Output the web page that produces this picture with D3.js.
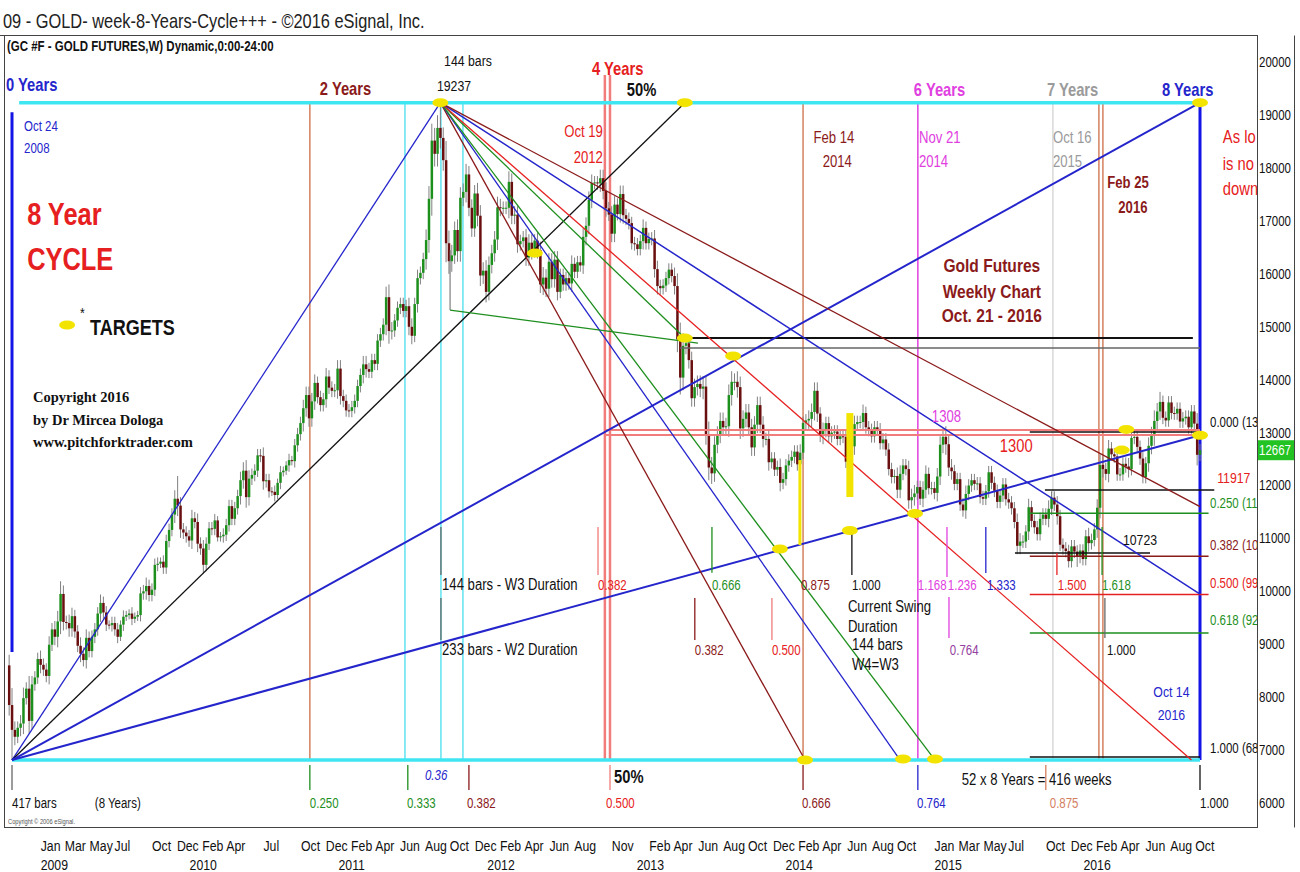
<!DOCTYPE html>
<html><head><meta charset="utf-8">
<script src="https://cdn.jsdelivr.net/npm/d3@7"></script>
<style>
body{margin:0;background:#fff}
svg text{font-family:'Liberation Sans',Arial,sans-serif}
</style></head><body>
<svg id="chart" width="1300" height="872"></svg>
<script>
// ---------------- DATA ----------------
// weekly closes (price x10), first entry = week -1 (Oct 17 2008), week 0 = Oct 24 2008 ... week 416 = Oct 14 2016
const firstWeek = -1;
const firstOpen = 8600;
const weeklyClose = [7850,
7380,7250,7420,7500,7980,8160,7550,8240,8370,8720,
8610,8520,8400,8990,9280,9140,9430,9950,9420,9400,
9300,9530,9240,8970,8820,8700,9120,8870,9140,9280,
9580,9780,9600,9370,9360,9400,9280,9140,9370,9520,
9550,9580,9480,9520,9550,9960,10000,10100,9930,10030,
10500,10520,10560,10450,10950,11160,11450,11750,11620,11170,
11110,11040,10960,11380,11310,10900,10810,10500,10900,11190,
11180,11340,11020,11040,11070,11250,11610,11370,11570,11800,
12100,12280,11780,12130,12200,12280,12570,12560,12080,12100,
11890,11880,11820,12050,12250,12280,12380,12480,12460,12760,
12970,13180,13460,13710,13270,13590,13940,13670,13520,13630,
14060,13850,13790,13800,14210,13690,13600,13420,13410,13480,
13600,13880,14090,14290,14200,14150,14370,14300,14740,14860,
15040,15560,14920,14930,15120,15360,15430,15300,15390,15000,
14830,15430,15920,16020,16280,16640,17420,18520,18270,18760,
18570,18150,16580,16240,16350,16830,16430,17440,17550,17880,
17250,16860,17520,17100,15970,16060,15660,16170,16390,16650,
17260,17250,17250,17250,17740,17100,17120,16560,16620,16690,
16310,16590,16430,16630,16450,15800,15930,15720,16230,15900,
16270,15660,15980,15800,15920,15820,16190,16040,16220,16160,
16700,16910,17400,17720,17730,17710,17810,17570,17240,17120,
16760,17310,17130,17510,17110,17040,16960,16580,16560,16470,
16620,16870,16580,16660,16670,16090,15770,15730,15780,15920,
16080,15960,15770,14760,14040,14640,14690,14370,13650,13860,
13920,13830,13870,12970,12340,12230,12770,12960,13220,13100,
13120,13710,13960,13960,13860,13080,13260,13380,13100,12720,
13150,13520,13150,12880,12880,12440,12510,12300,12350,12050,
12120,12380,12470,12540,12640,12400,12620,13180,13230,13260,
13390,13790,13360,12940,13030,13180,12930,13000,13020,12880,
12930,12920,12450,12520,12740,13160,13200,13200,13370,13100,
13050,12930,13100,13060,12800,12870,12680,12310,12160,12180,
11920,12220,12380,12310,11720,11780,11850,11970,11750,11920,
12220,11950,11950,11860,12170,12770,12920,12780,12340,12270,
12030,12120,11640,11530,11840,12000,12100,12030,12040,11780,
11750,11890,12250,12050,11900,11690,11810,12020,11740,11680,
11570,11310,10860,10940,10940,11130,11590,11330,11210,11080,
11370,11450,11370,11560,11770,11640,11420,10880,10810,10760,
10570,10850,10750,10650,10770,10610,11040,10910,10970,11170,
11580,12390,12310,12220,12700,12590,12550,12210,12210,12410,
12360,12310,12900,12920,12730,12510,12160,12420,12750,12950,
13220,13400,13580,13280,13230,13570,13370,13360,13450,13210,
13270,13300,13100,13400,13170,12580,12667];
// wick extension beyond body, in steps of 40 (price x10)
const wickSize = [5,8,4,3,4,5,3,6,4,3,
3,4,3,3,4,3,4,5,6,4, 3,4,4,3,3,4,3,4,3,3, 3,3,4,3,3,2,3,3,3,2, 3,2,2,3,2,2,3,3,4,3,
3,3,3,2,3,3,3,3,4,5, 4,3,3,3,4,3,4,3,4,3, 3,3,3,2,2,3,3,3,3,3, 3,4,4,5,4,3,3,3,3,4,
3,3,2,3,2,3,2,2,3,2, 3,3,3,4,4,4,4,4,3,3, 3,4,3,3,3,4,4,3,3,3, 3,3,3,3,4,4,3,3,3,3,
3,3,5,6,4,3,3,3,3,3, 4,4,3,4,3,3,5,6,8,6, 6,5,5,9,6,5,4,5,5,4, 5,4,4,4,5,5,4,5,4,4,
4,5,4,3,3,5,4,4,4,3, 3,4,4,4,3,4,4,5,4,4, 4,4,4,3,3,3,3,4,3,3, 3,4,4,4,4,3,3,4,4,4,
3,4,4,3,4,4,3,3,3,3, 3,3,4,3,3,3,4,4,3,3, 3,3,3,4,6,8,6,4,4,4, 4,4,4,5,5,6,5,4,4,4,
4,4,5,5,4,5,5,4,4,4, 4,4,4,4,4,3,4,3,3,3, 4,3,3,3,3,3,3,4,3,3, 4,4,4,4,3,4,3,3,3,3,
3,3,3,3,3,3,4,3,3,4, 3,3,3,3,3,3,3,3,3,3, 3,4,4,3,3,4,4,4,3,3, 4,4,3,3,3,4,4,4,5,4,
4,3,3,3,3,4,3,3,3,3, 3,3,3,3,3,3,3,3,3,3, 3,3,3,4,4,3,3,4,3,3, 3,3,3,3,4,3,3,4,3,3,
3,3,3,3,3,3,3,3,4,3, 3,4,5,4,3,4,3,3,3,3, 3,3,4,3,3,3,3,3,3,4, 4,5,4,4,3,3,3,3,3,3,
3,3,3,3,3,3,5,3];
const extremes = [{week:0,low:6810},{week:150,high:19237},{week:58,high:12180},{week:326,high:13080},{week:373,low:10460},{week:402,high:13770}];

const priceTicks = [6000,7000,8000,9000,10000,11000,12000,13000,14000,15000,16000,17000,18000,19000,20000];
const lastPrice = 12667;
const monthTicks = ["2009-01","2009-03","2009-05","2009-07","2009-10","2009-12","2010-02","2010-04","2010-07","2010-10","2010-12",
"2011-02","2011-04","2011-06","2011-08","2011-10","2011-12","2012-02","2012-04","2012-06","2012-08","2012-11",
"2013-02","2013-04","2013-06","2013-08","2013-10","2013-12","2014-02","2014-04","2014-06","2014-08","2014-10",
"2015-01","2015-03","2015-05","2015-07","2015-10","2015-12","2016-02","2016-04","2016-06","2016-08","2016-10"];
const yearTicks = ["2009","2010","2011","2012","2013","2014","2015","2016"];

// annotation geometry in (week, price)
const vLines = [[0,19058,8852,"bb",3],[104.3,19237,6810,"si",1.5],[137.6,19237,6810,"cyt",1.5],[150.2,19237,6810,"cyt",1.5],
[157.9,19237,6810,"cyt",1.5],[207.6,19758,6810,"lr",2.5],[209.4,19758,6810,"lr",2.5],[277,19237,6810,"si",1.5],
[317.2,19237,6810,"mg",1.5],[364.5,19237,6810,"lg",1.2],[380.6,19237,6810,"si",1.5],[382,19237,6810,"si",1.5],[416,19237,6810,"bb",3]];
const hLines = [[2.5,416,19237,"cy",3.5],[0,416,6810,"cy",3.5],[232.8,413.5,14787,"k",2],[233.9,416,14598,"dg",1.5],
[207.6,416,13048,"lr",2],[207.6,416,12954,"lr",2],[356.4,416,13010,"k",1.5],[361.7,421,11914,"k",1.5],
[356.4,419,11474,"g",1.5],[356.4,419,10664,"m",1.5],[356.4,419,9939,"r",1.5],[356.4,419,9214,"g",1.5],
[356.4,416,6868,"k",1.5],[351.2,398.5,10723,"k",1.5]];
const fanLines = [[0,6810,150,19237,"b",1.3],[0,6810,235.6,19237,"k",1.3],[0,6810,416,19237,"b",2],[0,6810,416,12950,"b",2],
[150,19237,277.7,6810,"m",1.3],[150,19237,311,6810,"b",1.3],[150,19237,323.2,6810,"g",1.3],[150,19237,235.6,14787,"g",1.3],
[150,19237,413,6810,"r",1.3],[150,19237,416,9948,"b",1.5],[150,19237,416,11600,"m",1.3],
[153.4,15316,240.2,14692,"g",1.3],[153.4,16450,153.4,15316,"dg",1]];
const targets = [[150,19237],[235.6,19237],[416,19237],[183.1,16393],[235.6,14787],[252.5,14447],[268.9,10800],[293.4,11150],
[316.2,11470],[277.7,6810],[312,6830],[323.2,6830],[390.2,13060],[388.6,12670],[416,12950],[19.3,15033]];
const targetBars = [[275.9,12481,10875,3],[293.4,13369,11782,7]];
const ticks = [[150.2,11215,10308,"dg"],[150.2,9873,9079,"dg"],[205.2,11215,10308,"lr"],[245.1,11215,10350,"g"],
[239.1,9873,9079,"m"],[266.1,9873,9079,"lr"],[294.1,11215,10308,"k"],[327.4,11215,10270,"mg"],[341,11215,10346,"b"],
[365.9,10723,10308,"r"],[381.7,11215,10308,"g"],[382.7,9873,9117,"dg"],[328.1,9892,9117,"mg"],
[0,6716,6244,"dg"],[104.3,6716,6244,"g"],[138.6,6716,6244,"g"],[160,6716,6244,"m"],[209.4,6716,6244,"lr"],
[277,6716,6244,"m"],[317.2,6716,6244,"b"],[362,6716,6244,"si"],[416,6716,6244,"k"]];
const labels = [
["0 Years",-2.1,19455,"b","yr"],["2 Years",107.8,19380,"m","yr"],["144 bars",151.3,19928,"k","md"],["19237",148.8,19455,"k","md"],
["4 Years",203.1,19758,"r","yr"],["50%",215.3,19361,"k","yr"],["6 Years",315.8,19361,"mg","yr"],["7 Years",362.4,19361,"gy","yr"],
["8 Years",402.7,19361,"b","yr"],["Oct 24",4.2,18699,"b","sm"],["2008",4.2,18283,"b","sm"],
["Oct 19",206.9,18586,"r","dt","end"],["2012",206.9,18094,"r","dt","end"],
["Feb 14",287.8,18472,"m","dt","middle"],["2014",289,18019,"m","dt","middle"],
["Nov 21",317.6,18472,"mg","dt"],["2014",317.6,18019,"mg","dt"],["Oct 16",364.5,18472,"gy","dt"],["2015",364.5,18019,"gy","dt"],
["Feb 25",390.8,17622,"m","dtb","middle"],["2016",392.5,17149,"m","dtb","middle"],
["As lo",424,18472,"r","yrn"],["is no",424,17962,"r","yrn"],["down",424,17490,"r","yrn"],
["Gold Futures",343.1,16034,"m","gf","middle"],["Weekly Chart",343.1,15543,"m","gf","middle"],["Oct. 21 - 2016",343.1,15089,"m","gf","middle"],
["1308",322.1,13199,"mg","dt"],["1300",345.9,12632,"r","yrn"],["10723",389,10875,"k","md"],["11917",422,12046,"r","md"],
["0.000 (13",419.5,13105,"k","sm"],["0.250 (11",419.5,11574,"g","sm"],["0.382 (10",419.5,10780,"m","sm"],
["0.500 (99",419.5,10062,"r","sm"],["0.618 (92",419.5,9363,"g","sm"],["1.000 (68",419.5,6943,"k","sm"],
["Oct 14",406,8002,"b","md","middle"],["2016",406,7567,"b","md","middle"],
["8 Year",5.3,16923,"r","big"],["CYCLE",5.3,16072,"r","big"],["*",23.8,15165,"k","md"],["TARGETS",27.3,14844,"k","tg"],
["Copyright 2016",7.35,13577,"k","cp"],["by Dr Mircea Dologa",7.35,13143,"k","cp"],["www.pitchforktrader.com",7.35,12727,"k","cp"],
["144 bars - W3 Duration",150.6,10024,"k","tx"],["233 bars - W2 Duration",150.6,8796,"k","tx"],
["0.382",205.2,10024,"r","sm"],["0.666",245.1,10024,"g","sm"],["0.382",239.1,8796,"m","sm"],["0.500",266.1,8796,"r","sm"],
["0.875",276.3,10024,"m","sm"],["1.000",294.1,10024,"k","sm"],["Current Swing",292.7,9608,"k","tx"],["Duration",292.7,9230,"k","tx"],
["144 bars",294.1,8890,"k","tx"],["W4=W3",294.1,8512,"k","tx"],
["1.168",317.2,10024,"mg","sm"],["1.236",327.7,10024,"mg","sm"],["1.333",341.4,10024,"b","sm"],["1.500",366.2,10024,"r","sm"],
["1.618",381.7,10024,"g","sm"],["0.764",328.4,8796,"pu","sm"],["1.000",383.4,8796,"k","sm"],
["417 bars",0,5903,"k","sm"],["(8 Years)",29,5903,"k","sm"],["0.250",104.3,5903,"g","sm"],["0.333",138.3,5903,"g","sm"],
["0.382",159.3,5903,"m","sm"],["0.500",208,5903,"r","sm"],["0.666",276.6,5903,"m","sm"],["0.764",316.9,5903,"b","sm"],
["0.875",363.4,5903,"si","sm"],["1.000",416,5903,"k","sm"],
["0.36",144.6,6433,"b","it"],["50%",210.8,6376,"k","yr"],["52 x 8 Years = 416 weeks",332.6,6338,"k","tx"]];

// ---------------- STYLE ----------------
const COL = {b:"#2525cc",bb:"#1414e6",k:"#111111",m:"#8b1a1a",r:"#e62020",lr:"#f07c7c",g:"#1e8f1e",mg:"#e040e0",
 pu:"#9440a0",gy:"#9a9a9a",lg:"#cfcfcf",si:"#d4805f",cy:"#3ee6f2",cyt:"#5fe3f0",dg:"#666666"};
const STY = {yr:[18,"bold"],yrn:[18,"normal"],md:[15,"normal"],tx:[16,"normal"],sm:[14,"normal"],dt:[16,"normal"],dtb:[16,"bold"],
 gf:[19,"bold"],big:[31,"bold"],tg:[22,"bold"],cp:[14.5,"bold"],it:[14,"normal"]};
const UP = "#1d8f1d", DOWN = "#6a0f0f", WICK = "#808080", TARGET = "#f3e400";
const NARROW = 0.82;

// ---------------- SCALES ----------------
const START = Date.UTC(2008,9,24), END = Date.UTC(2016,9,14), WEEK = 7*864e5;
const x = d3.scaleUtc().domain([new Date(START), new Date(END)]).range([12,1200]);
const y = d3.scaleLinear().domain([6000,20000]).range([802.9,62.3]);
const X = w => x(new Date(START + w*WEEK));

const svg = d3.select("#chart");
svg.append("defs").append("clipPath").attr("id","clip").append("rect").attr("x",5).attr("y",36).attr("width",1252).attr("height",792);

// title
svg.append("text").attr("x",3).attr("y",28).attr("font-size",20).attr("fill","#222").text("09 - GOLD- week-8-Years-Cycle+++ - ©2016 eSignal, Inc.");
const plot = svg.append("g").attr("clip-path","url(#clip)");
plot.append("text").attr("x",7).attr("y",51).attr("font-size",14).attr("font-weight","bold").attr("fill","#111").text("(GC #F - GOLD FUTURES,W) Dynamic,0:00-24:00");

// vertical lines
plot.selectAll(".vl").data(vLines).join("line").attr("x1",d=>X(d[0])).attr("x2",d=>X(d[0]))
  .attr("y1",d=>y(d[1])).attr("y2",d=>y(d[2])).attr("stroke",d=>COL[d[3]]).attr("stroke-width",d=>d[4]);

// candles
const candles = weeklyClose.map((c,i)=>{
  const w = i + firstWeek, o = i ? weeklyClose[i-1] : firstOpen;
  let hi = Math.max(o,c) + wickSize[i]*40, lo = Math.min(o,c) - wickSize[i]*40;
  extremes.forEach(e=>{ if(e.week===w){ if(e.high) hi=e.high; if(e.low) lo=e.low; }});
  return {w,o,c,hi,lo};
});
const cg = plot.append("g");
cg.selectAll("line").data(candles).join("line").attr("x1",d=>X(d.w)).attr("x2",d=>X(d.w))
  .attr("y1",d=>y(d.hi)).attr("y2",d=>y(d.lo)).attr("stroke",WICK).attr("stroke-width",1);
cg.selectAll("rect").data(candles).join("rect").attr("x",d=>X(d.w)-1.2).attr("width",2.5)
  .attr("y",d=>y(Math.max(d.o,d.c))).attr("height",d=>Math.max(1,Math.abs(y(d.o)-y(d.c))))
  .attr("fill",d=>d.c>=d.o?UP:DOWN);

// horizontal & fan lines
plot.selectAll(".hl").data(hLines).join("line").attr("x1",d=>X(d[0])).attr("x2",d=>X(d[1]))
  .attr("y1",d=>y(d[2])).attr("y2",d=>y(d[2])).attr("stroke",d=>COL[d[3]]).attr("stroke-width",d=>d[4]);
plot.selectAll(".fl").data(fanLines).join("line").attr("x1",d=>X(d[0])).attr("y1",d=>y(d[1]))
  .attr("x2",d=>X(d[2])).attr("y2",d=>y(d[3])).attr("stroke",d=>COL[d[4]]).attr("stroke-width",d=>d[5]);
plot.selectAll(".tk").data(ticks).join("line").attr("x1",d=>X(d[0])).attr("x2",d=>X(d[0]))
  .attr("y1",d=>y(d[1])).attr("y2",d=>y(d[2])).attr("stroke",d=>COL[d[3]]).attr("stroke-width",1.3);

// targets
plot.selectAll(".tb").data(targetBars).join("line").attr("x1",d=>X(d[0])).attr("x2",d=>X(d[0]))
  .attr("y1",d=>y(d[1])).attr("y2",d=>y(d[2])).attr("stroke",TARGET).attr("stroke-width",d=>d[3]);
plot.selectAll(".te").data(targets).join("ellipse").attr("cx",d=>X(d[0])).attr("cy",d=>y(d[1]))
  .attr("rx",8).attr("ry",4.5).attr("fill",TARGET);

// labels
plot.selectAll(".lb").data(labels).join("text").attr("x",d=>X(d[1])).attr("y",d=>y(d[2]))
  .attr("fill",d=>COL[d[3]]).attr("font-size",d=>STY[d[4]][0]).attr("font-weight",d=>STY[d[4]][1])
  .attr("font-style",d=>d[4]==="it"?"italic":"normal")
  .attr("class",d=>d[4]==="cp"?"serif":null)
  .style("font-family",d=>d[4]==="cp"?"'Liberation Serif','Times New Roman',serif":null)
  .attr("text-anchor",d=>d[5]||"start").text(d=>d[0]);

plot.append("text").attr("x",8).attr("y",824).attr("font-size",7).attr("fill","#555").text("Copyright © 2006 eSignal.");

// frames
svg.append("rect").attr("x",4.5).attr("y",35.5).attr("width",1253).attr("height",792).attr("fill","none").attr("stroke","#444");
svg.append("line").attr("x1",1294.5).attr("x2",1294.5).attr("y1",35.5).attr("y2",827.5).attr("stroke","#444");
svg.append("line").attr("x1",0).attr("x2",4.5).attr("y1",35.5).attr("y2",35.5).attr("stroke","#444");

// right price axis
const ya = svg.append("g").attr("transform","translate(1259,0)")
  .call(d3.axisRight(y).tickValues(priceTicks).tickSize(0).tickPadding(0).tickFormat(d3.format("d")));
ya.select(".domain").remove();
ya.selectAll("text").attr("font-size",14).attr("fill","#111").attr("x",0).style("font-family",null);
svg.append("rect").attr("x",1258).attr("y",y(lastPrice)-10).attr("width",36).attr("height",20).attr("fill","#22c322");
svg.append("text").attr("x",1259).attr("y",y(lastPrice)+5).attr("font-size",14).attr("fill","#fff").text(d3.format("d")(lastPrice));

// bottom time axis
const parseM = d3.utcParse("%Y-%m"), parseY = d3.utcParse("%Y");
const xa = svg.append("g").attr("transform","translate(0,851)")
  .call(d3.axisBottom(x).tickValues(monthTicks.map(parseM)).tickFormat(d3.utcFormat("%b")).tickSize(0));
xa.select(".domain").remove();
xa.selectAll("text").attr("y",0).attr("dy",0).attr("text-anchor","start").attr("font-size",15).attr("fill","#111").style("font-family",null);
const xy = svg.append("g").attr("transform","translate(0,870)")
  .call(d3.axisBottom(x).tickValues(yearTicks.map(parseY)).tickFormat(d3.utcFormat("%Y")).tickSize(0));
xy.select(".domain").remove();
xy.selectAll("text").attr("y",0).attr("dy",0).attr("text-anchor","start").attr("font-size",15).attr("fill","#111").style("font-family",null);

// condense all sans texts horizontally (Arial-Narrow look)
svg.selectAll("text").each(function(){
  const t = d3.select(this);
  if (t.classed("serif")) return;
  const tx = +t.attr("x") || 0, ty = +t.attr("y") || 0;
  t.attr("x",0).attr("y",0).attr("transform",`translate(${tx},${ty}) scale(${NARROW},1)`);
});
</script>
</body></html>
